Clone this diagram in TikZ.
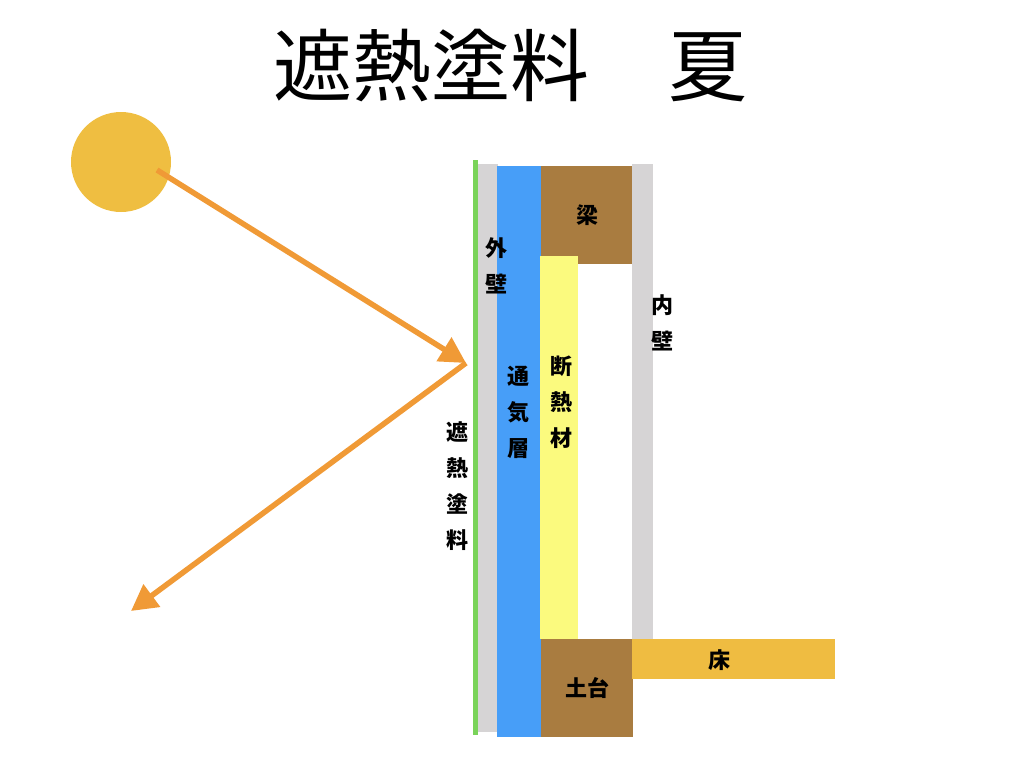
\documentclass[tikz,border=0pt]{standalone}
\usepackage{fontspec}
\setmainfont{Noto Sans CJK JP}
\usetikzlibrary{arrows.meta}

\definecolor{sunyellow}{HTML}{EFBE41}
\definecolor{rayorange}{HTML}{F09A36}
\definecolor{coatgreen}{HTML}{7AD35A}
\definecolor{wallgray}{HTML}{D6D4D5}
\definecolor{airblue}{HTML}{479EF8}
\definecolor{woodbrown}{HTML}{A97C40}
\definecolor{insyellow}{HTML}{FBFA7E}
\definecolor{floororange}{HTML}{EFBC41}

\tikzset{
  ray/.style={draw=rayorange, line width=5.5pt, -{Triangle[length=26pt,width=27pt]}},
  lbl/.style={font=\fontsize{22}{36}\selectfont\bfseries, align=center, inner sep=0pt},
}

\begin{document}
\begin{tikzpicture}[x=1pt,y=-1pt]
   \useasboundingbox (0,0) rectangle (1024,768);

   \node (title) at (510,66) {\fontsize{79}{79}\selectfont 遮熱塗料　夏};

   \node[circle, fill=sunyellow, minimum size=100pt, inner sep=0pt] (sun) at (121,162) {};

   % wall
   \fill[wallgray] (478,164) rectangle (498,732);
   \fill[coatgreen] (473,160) rectangle (478,735);
   \fill[airblue] (497,166) rectangle (541,737);
   \fill[woodbrown] (541,166) rectangle (632,264);
   \fill[insyellow] (540,256) rectangle (578,639);
   \fill[wallgray] (632,164) rectangle (653,639);
   \fill[woodbrown] (541,639) rectangle (633,737);
   \fill[floororange] (632,639) rectangle (835,679);

   \node[lbl] (outer) at (496,266) {外\\壁};
   \node[lbl] (inner) at (662,323) {内\\壁};
   \node[lbl] (air) at (518,412) {通\\気\\層};
   \node[lbl] (ins) at (561,402) {断\\熱\\材};
   \node[lbl] (coat) at (457,486) {遮\\熱\\塗\\料};
   \node[lbl] (beam) at (587,215) {梁};
   \node[lbl] (sill) at (587,688) {土台};
   \node[lbl] (floor) at (719,660) {床};

   % sun rays
   \coordinate (ray) at (157,170);
   \coordinate (hit) at (466,363);
   \coordinate (back) at (131,611);
   \draw[ray] (ray) -- (hit);
   \draw[ray] (hit) -- (back);

\end{tikzpicture}
\end{document}
